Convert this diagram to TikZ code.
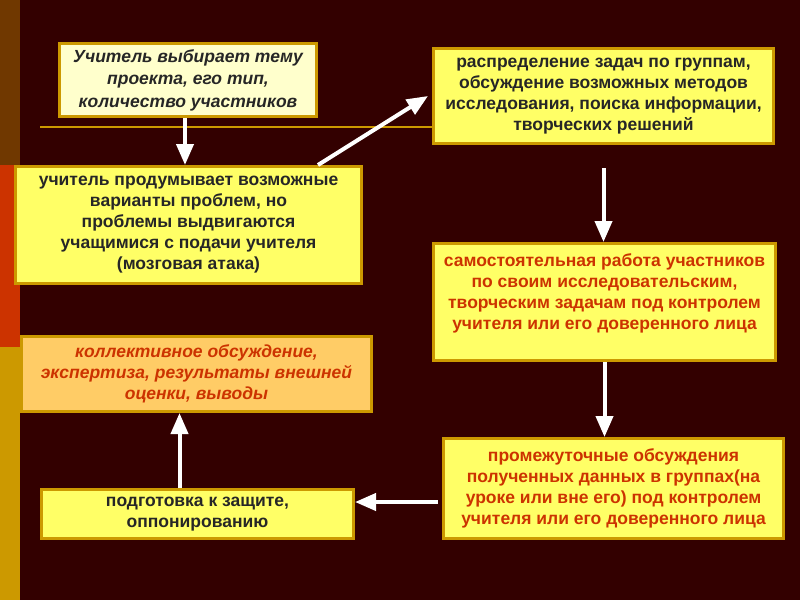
\documentclass[tikz,border=0pt]{standalone}
\usepackage{fontspec}
\setmainfont{Liberation Sans}
\usetikzlibrary{calc, arrows.meta}

\definecolor{bgdark}{HTML}{330000}
\definecolor{stripbrown}{HTML}{703800}
\definecolor{stripred}{HTML}{CC3300}
\definecolor{stripgold}{HTML}{CC9900}
\definecolor{boxgold}{HTML}{CC9900}
\definecolor{boxyellow}{HTML}{FFFF66}
\definecolor{boxcream}{HTML}{FFFFCC}
\definecolor{boxorange}{HTML}{FFCC66}
\definecolor{textred}{HTML}{CC3300}

\begin{document}
\begin{tikzpicture}[x=1pt, y=-1pt,
    box/.style={draw=boxgold, line width=3pt, fill=boxyellow, align=center,
      inner sep=0pt, font=\fontsize{17.5}{21}\selectfont\bfseries},
    arr/.style={white, line width=4pt,
      -{Triangle[width=17pt, length=21pt]}}]
  % фон и полоса слева
  \useasboundingbox (0,0) rectangle (800,600);
  \fill[bgdark] (0,0) rectangle (800,600);
  \fill[stripbrown] (0,0) rectangle (20,165);
  \fill[stripred] (0,165) rectangle (20,347);
  \fill[stripgold] (0,347) rectangle (20,600);

  % блоки
  \node[box, fill=boxcream, font=\fontsize{17.5}{22.5}\selectfont\bfseries\itshape,
    minimum width=257, minimum height=73, text=black!85] (b1) at (188,80)
    {Учитель выбирает тему\\ проекта, его тип,\\ количество участников};
  \node[box, minimum width=340, minimum height=95, text=black!85] (b2) at (603.5,96)
    {распределение задач по группам,\\ обсуждение возможных методов\\
     исследования, поиска информации,\\ творческих решений};
  \node[box, minimum width=346, minimum height=117, text=black!85] (b3) at (188.5,225)
    {учитель продумывает возможные\\ варианты проблем, но\\ проблемы выдвигаются\\
     учащимися с подачи учителя\\ (мозговая атака)};
  \node[box, minimum width=342, minimum height=117, text=textred] (b4) at (604.5,302)
    {самостоятельная работа участников\\ по своим исследовательским,\\
     творческим задачам под контролем\\ учителя или его доверенного лица\\ \mbox{}};
  \node[box, fill=boxorange, font=\fontsize{17.5}{21}\selectfont\bfseries\itshape,
    minimum width=350, minimum height=75, text=textred] (b5) at (196.5,374)
    {коллективное обсуждение,\\ экспертиза, результаты внешней\\ оценки, выводы};
  \node[box, minimum width=340, minimum height=100, text=textred] (b6) at (613.5,488.5)
    {промежуточные обсуждения\\ полученных данных в группах(на\\
     уроке или вне его) под контролем\\ учителя или его доверенного лица};
  \node[box, minimum width=312, minimum height=49, text=black!85] (b7) at (197.5,514)
    {подготовка к защите,\\ оппонированию};

  % линия
  \coordinate (lineL) at (40,127);
  \draw[boxgold, line width=2pt] (lineL) -- (lineL -| b2.west);

  % стрелки
  \draw[arr] ([xshift=-3pt]b1.south) -- ([xshift=-3pt]b1.south |- b3.north);
  \draw[arr] ([xshift=-45pt]b3.north east) -- ([xshift=-4pt]b2.west);
  \draw[arr] ([yshift=-23pt]b2.south) -- (b2.south |- b4.north);
  \draw[arr] (b4.south) -- (b4.south |- b6.north);
  \draw[arr] ([yshift=-13.5pt, xshift=-4pt]b6.west) -- ([yshift=-13.5pt]b6.west -| b7.east);
  \draw[arr] ([xshift=-18pt]b7.north) -- ([xshift=-18pt]b7.north |- b5.south);
\end{tikzpicture}
\end{document}
